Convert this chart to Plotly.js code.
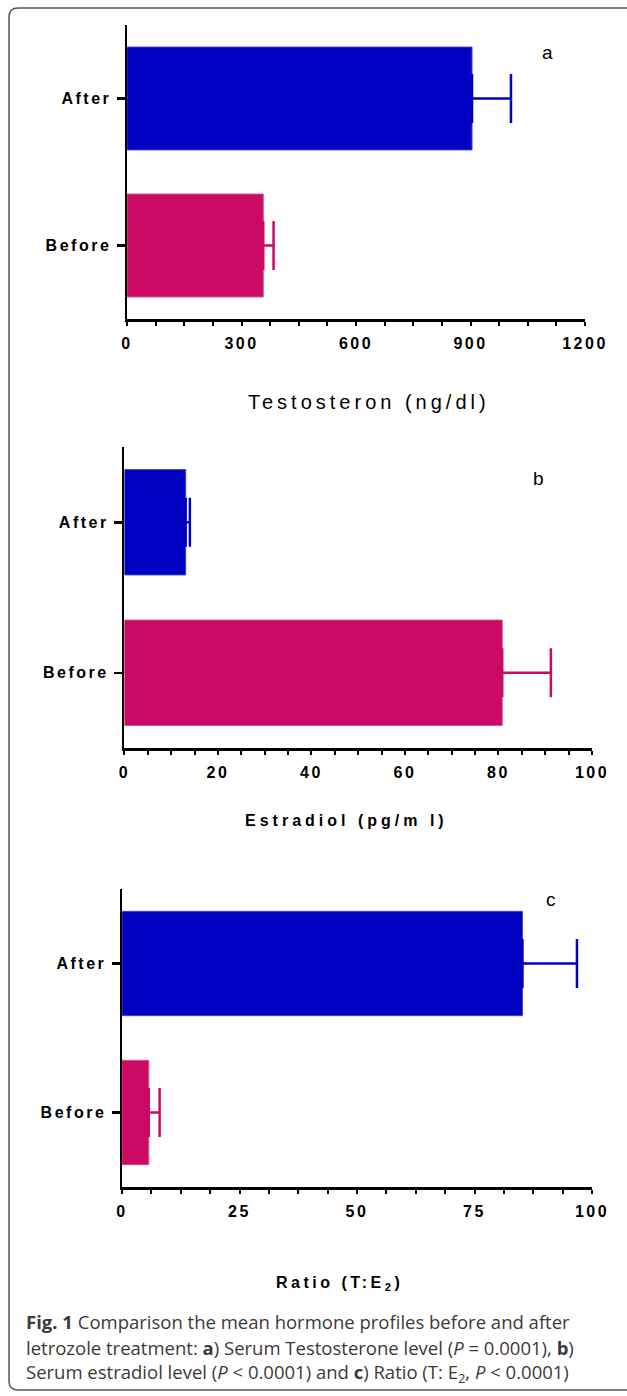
<!DOCTYPE html>
<html>
<head>
<meta charset="utf-8">
<script src="https://cdn.plot.ly/plotly-3.0.1.min.js"></script>
<style>
  html, body { margin: 0; padding: 0; background: #fff; }
  #chart { width: 627px; height: 1396px; }
  .xaxislayer-above text, .yaxislayer-above text { letter-spacing: 2.5px; }
</style>
</head>
<body>
<div id="chart"></div>
<script>
// ---------------- data ----------------
const categories = ['Before', 'After'];

const testosteroneMean = [357, 904];
const testosteroneErr  = [27, 102];

const estradiolMean = [80.8, 13.1];
const estradiolErr  = [10.4, 0.9];

const ratioMean = [5.7, 85.2];
const ratioErr  = [2.3, 11.6];

const testosteroneTicks = [0, 300, 600, 900, 1200];
const estradiolTicks    = [0, 20, 40, 60, 80, 100];
const ratioTicks        = [0, 25, 50, 75, 100];

const panelLetters = ['a', 'b', 'c'];
const axisTitles = ['Testosteron (ng/dl)', 'Estradiol (pg/m l)', 'Ratio (T:E<sub>2</sub>)'];
const captionLines = [
  '<b>Fig. 1</b> Comparison the mean hormone profiles before and after',
  'letrozole treatment: <b>a</b>) Serum Testosterone level (<i>P</i> = 0.0001), <b>b</b>)',
  'Serum estradiol level (<i>P</i> &lt; 0.0001) and <b>c</b>) Ratio (T: E<sub>2</sub>, <i>P</i> &lt; 0.0001)'
];

// ---------------- layout helpers ----------------
const W = 627, H = 1396;
const px = x => x / W;
const py = y => 1 - y / H;

const colors = ['#CC0A63', '#0000C0'];
const edge = ['#D84A88', '#4040D0'];
const FAM = 'Liberation Sans, Arial, sans-serif';

const tickFont = { family: FAM, size: 16, weight: 700, color: '#000' };

function xAxis(dom, yAnchor, range, ticks, minor) {
  return {
    domain: [px(dom[0]), px(dom[1])], anchor: yAnchor,
    range: range, tickmode: 'array', tickvals: ticks,
    showline: true, linecolor: '#000', linewidth: 2.5,
    ticks: 'outside', ticklen: 4, tickwidth: 2, tickcolor: '#000',
    minor: { dtick: minor, tick0: 0, ticks: 'outside', ticklen: 4, tickwidth: 2, tickcolor: '#000', showgrid: false },
    showgrid: false, zeroline: false, fixedrange: true,
    tickfont: tickFont, ticklabelstandoff: 4
  };
}
function yAxis(dom, xAnchor) {
  return {
    domain: [py(dom[1]), py(dom[0])], anchor: xAnchor,
    type: 'category', categoryorder: 'array', categoryarray: categories,
    range: [-0.5, 1.5],
    showline: true, linecolor: '#000', linewidth: 2.5,
    ticks: 'outside', ticklen: 8, tickwidth: 2.5, tickcolor: '#000',
    showgrid: false, zeroline: false, fixedrange: true,
    tickfont: tickFont, ticklabelstandoff: 2
  };
}

// one trace per category so each error bar takes its bar's colour
const sets = [
  [testosteroneMean, testosteroneErr, 'x', 'y'],
  [estradiolMean, estradiolErr, 'x2', 'y2'],
  [ratioMean, ratioErr, 'x3', 'y3']
];
const traces = [];
sets.forEach(([vals, errs, xa, ya]) => {
  categories.forEach((c, i) => {
    traces.push({
      type: 'bar', orientation: 'h', y: [c], x: [vals[i]],
      xaxis: xa, yaxis: ya,
      marker: { color: colors[i], line: { color: edge[i], width: 1 } },
      error_x: { type: 'data', symmetric: false, array: [errs[i]], arrayminus: [0],
                 color: colors[i], thickness: 2.5, width: 24.5 },
      showlegend: false, hoverinfo: 'x+y'
    });
  });
});

// rounded frame
const fl = 9, ft = 8, fb = 1390, fr = 660, r = 9;
const framePath =
  `M ${px(fl)},${py(ft + r)} Q ${px(fl)},${py(ft)} ${px(fl + r)},${py(ft)} ` +
  `L ${px(fr)},${py(ft)} L ${px(fr)},${py(fb)} L ${px(fl + r)},${py(fb)} ` +
  `Q ${px(fl)},${py(fb)} ${px(fl)},${py(fb - r)} Z`;

const annotations = [];
const letterPos = [[547, 52], [538, 478], [551, 899]];
panelLetters.forEach((t, i) => annotations.push({
  text: t, xref: 'paper', yref: 'paper',
  x: px(letterPos[i][0]), y: py(letterPos[i][1]),
  xanchor: 'center', yanchor: 'middle', showarrow: false,
  font: { family: FAM, size: 19, color: '#000' }
}));

// axis titles (placed as in the reference)
const titlePos = [[369, 402], [346, 820], [339, 1283]];
const titleFonts = [
  { family: FAM, size: 20, color: '#000' },
  { family: FAM, size: 16, weight: 700, color: '#000' },
  { family: FAM, size: 16, weight: 700, color: '#000' }
];
const titleSpacing = ['4px', '4px', '3.5px'];
axisTitles.forEach((t, i) => annotations.push({
  text: t, xref: 'paper', yref: 'paper',
  x: px(titlePos[i][0]), y: py(titlePos[i][1]),
  xanchor: 'center', yanchor: 'middle', showarrow: false,
  font: titleFonts[i]
}));

const capY = [1321, 1347, 1373];
captionLines.forEach((t, i) => annotations.push({
  text: t, xref: 'paper', yref: 'paper',
  x: px(24), y: py(capY[i]), xanchor: 'left', yanchor: 'middle', showarrow: false,
  align: 'left',
  font: { family: 'Open Sans, sans-serif', size: 18.5, color: '#3a3a3a' }
}));

const layout = {
  width: W, height: H,
  margin: { l: 0, r: 0, t: 0, b: 0 },
  paper_bgcolor: '#fff', plot_bgcolor: '#fff',
  bargap: 0.3, barmode: 'overlay',
  xaxis:  xAxis([127, 585], 'y',  [0, 1200], testosteroneTicks, 75),
  yaxis:  yAxis([25, 319], 'x'),
  xaxis2: xAxis([124.4, 592], 'y2', [0, 100], estradiolTicks, 5),
  yaxis2: yAxis([447, 748], 'x2'),
  xaxis3: xAxis([122, 592], 'y3', [0, 100], ratioTicks, 6.25),
  yaxis3: yAxis([889, 1187], 'x3'),
  shapes: [{ type: 'path', xref: 'paper', yref: 'paper', path: framePath,
             line: { color: '#555', width: 1.5 }, fillcolor: 'rgba(0,0,0,0)', layer: 'below' }],
  annotations: annotations
};

Plotly.newPlot('chart', traces, layout, { displayModeBar: false, staticPlot: true }).then(gd => {
  // letter-spaced axis titles, as in the reference
  const texts = gd.querySelectorAll('.annotation-text');
  texts.forEach(el => {
    const idx = axisTitles.findIndex(t => el.getAttribute('data-unformatted') === t);
    if (idx >= 0) el.style.letterSpacing = titleSpacing[idx];
  });
});
</script>
</body>
</html>
